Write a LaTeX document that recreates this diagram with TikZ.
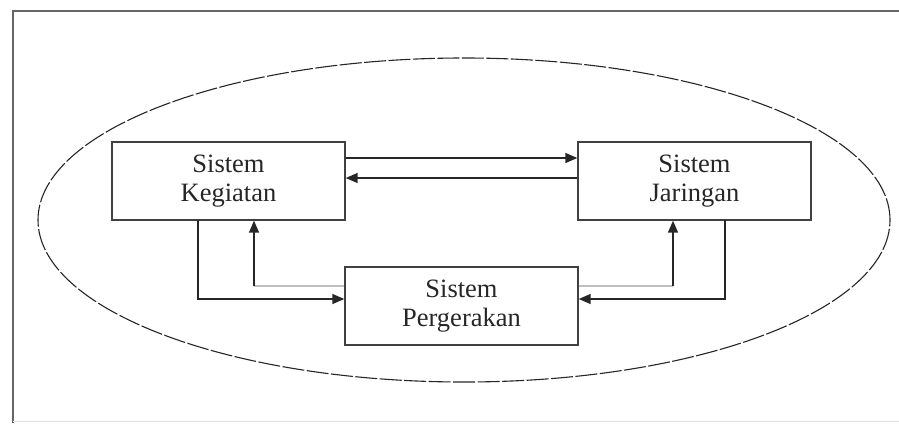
\documentclass[tikz,border=0pt]{standalone}
\usepackage{fontspec}
\setmainfont{Liberation Serif}
\usetikzlibrary{arrows.meta,shapes.geometric}
\begin{document}
\begin{tikzpicture}[x=1pt,y=-1pt,
  sysbox/.style={draw=black!75,line width=1.4pt,minimum width=233pt,minimum height=78pt,inner sep=0pt,
    align=center,font=\fontsize{26.5}{29}\selectfont,text=black!85},
  conn/.style={line width=1.5pt,draw=black!85,-{Triangle[length=12pt,width=10pt]}},
  faint/.style={line width=1.2pt,draw=black!25}]
\useasboundingbox (0,0) rectangle (899,423);
% frame
\draw[line width=2.4pt,draw=black!60] (13,423) -- (13,11) -- (899,11);
\draw[line width=1pt,draw=black!12] (13,421) -- (899,421);
% ellipse
\node[draw=black!85,line width=1.1pt,dash pattern=on 22pt off 2.5pt,ellipse,minimum width=852pt,minimum height=324pt,inner sep=0pt] (env) at (464,220) {};
% boxes
\node[sysbox] (keg) at (228.5,181) {Sistem\\Kegiatan};
\node[sysbox] (jar) at (694.5,181) {Sistem\\Jaringan};
\node[sysbox] (per) at (461.5,306) {Sistem\\Pergerakan};
% top arrows
\draw[conn] (keg.east|-0,158) -- (jar.west|-0,158);
\draw[conn] (jar.west|-0,178) -- (keg.east|-0,178);
% left side
\draw[conn] (198,220) |- (per.west|-0,299);
\coordinate (lfa) at (254,286);
\draw[faint] (per.west|-lfa) -- (lfa);
\draw[conn] (lfa) -- (lfa|-keg.south);
% right side
\draw[conn] (725,220) |- (per.east|-0,299);
\coordinate (rfa) at (673,286);
\draw[faint] (per.east|-rfa) -- (rfa);
\draw[conn] (rfa) -- (rfa|-jar.south);
\end{tikzpicture}
\end{document}
